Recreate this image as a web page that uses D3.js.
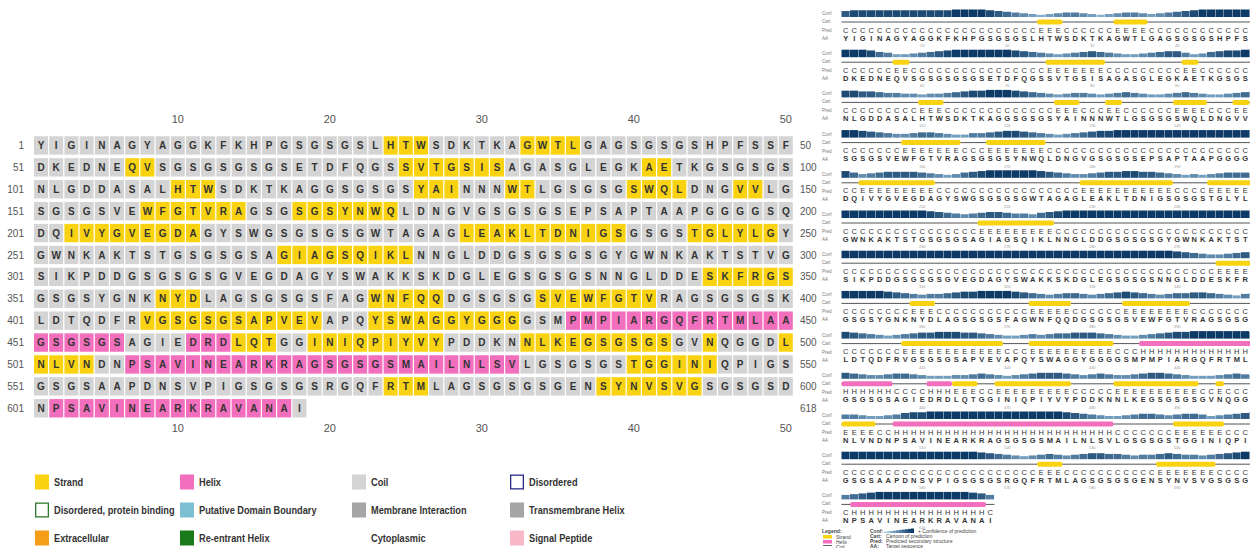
<!DOCTYPE html>
<html>
<head>
<meta charset="utf-8">
<script src="https://cdn.jsdelivr.net/npm/d3@7"></script>
<style>
  html, body { margin: 0; padding: 0; background: #fff; }
  svg { display: block; font-family: "Liberation Sans", Arial, sans-serif; }
</style>
</head>
<body>
<svg id="chart" width="1250" height="548"></svg>
<script>
// Protein sequence, 50 residues per row
const sequenceRows = [
  "YIGINAGYAGGKFKHPGSGSGSLHTWSDKTKAGWTLGAGSGSGSHPFSSF",
  "DKEDNEQVSGSGSGSGSETDFQGSSVTGSISAGASGLEGKAETKGSGSGS",
  "NLGDDASALHTWSDKTKAGGSGSGSYAINNNWTLGSGSGSWQLDNGVVLG",
  "SGSGSVEWFGTVRAGSGSGSYNWQLDNGVGSGSGSEPSAPTAAPGGGGSQ",
  "DQIVYGVEGDAGYSWGSGSGSGWTAGAGLEAKLTDNIGSGSGSTGLYLGY",
  "GWNKAKTSTGSGSGSAGIAGSQIKLNNGLDDGSGSGSGYGWNKAKTSTVG",
  "SIKPDDGSGSGSGVEGDAGYSWAKKSKDGLEGSGSGSNNGLDDESKFRGS",
  "GSGSYGNKNYDLAGSGSGSFAGWNFQQDGSGSGSVEWFGTVRAGSGSGSK",
  "LDTQDFRVGSGSGSAPVEVAPQYSWAGGYGGGGSMPMPIARGQFRTMLAA",
  "GSGSGSAGIEDRDLQTGGINIQPIYVYPDDKNNLKEGSGSGSGVNQGGDL",
  "NLVNDNPSAVINEARKRAGSGSGSMAILNLSVLGSGSGSTGGINIQPIGS",
  "GSGSAAPDNSVPIGSGSGSRGQFRTMLAGSGSGSGENSYNVSVGSGSGSD",
  "NPSAVINEARKRAVANAI"
];

// Secondary structure per row as runs: C = coil, E = strand, H = helix
const structureRuns = [
  "C23 E3 C6 E4 C14",
  "C6 E2 C16 E7 C9 E2 C8",
  "C9 E3 C13 E3 C3 E2 C6 E4 C3 E2 C2",
  "C7 E7 C3 E7 C26",
  "C2 E9 C17 E11 C4 E6 C1",
  "C16 E9 C25",
  "C44 E6",
  "C8 E3 C11 E5 C6 E8 C9",
  "C7 E12 C3 E10 C3 H15",
  "H6 C4 H3 E3 C2 E9 C5 E10 C2 E1 C4 E1",
  "E4 C2 H26 C7 E6 C5",
  "C23 E3 C11 E7 C6",
  "C1 H16 C1"
];

// Prediction confidence (0-9) per residue
const confidenceRows = [
  "7888888888 8889999876 5432345543 2345543456 7899999999",
  "9998653345 6789999999 8765434567 6543345677 5346788999",
  "8877655443 4456788999 8765434554 3456543345 6543345677",
  "9987654456 6543355678 8765434567 8899999999 9999999999",
  "8645677776 5434678999 9998765445 6778877654 3434566655",
  "9999999999 8765456776 5546789999 9999999999 9999999999",
  "9999999999 9999999999 9999999999 9999999998 7654456775",
  "9999987654 5567889999 8765456654 5678765456 6776543567",
  "8765434567 7888776543 3454566777 6543345678 8999999987",
  "7654456654 3334456543 4567776545 6544567765 4333456544",
  "5543345788 9999999999 9999998765 4334566545 6653456789",
  "9999999999 9999998765 4345654567 7665455676 5545678999",
  "5678999999 99999875 "
];

const rowStartLabels = [1, 51, 101, 151, 201, 251, 301, 351, 401, 451, 501, 551, 601];
const rowEndLabels = [50, 100, 150, 200, 250, 300, 350, 400, 450, 500, 550, 600, 618];
const positionTicks = [10, 20, 30, 40, 50];
const miniTicks = [10, 20, 30, 40, 50];

const legendLabels = [
  "Strand", "Helix", "Coil", "Disordered",
  "Disordered, protein binding", "Putative Domain Boundary", "Membrane Interaction", "Transmembrane Helix",
  "Extracellular", "Re-entrant Helix", "Cytoplasmic", "Signal Peptide"
];
const legendFills = [
  "#f9d312", "#f26fbd", "#d4d4d4", "none",
  "none", "#7dbfd2", "#a6a6a6", "#a6a6a6",
  "#f59d16", "#1a7a1a", "none", "#f8b8c8"
];
const legendStrokes = [
  "none", "none", "none", "#2a2a8a",
  "#2f7a2f", "none", "none", "none",
  "none", "none", "none", "none"
];

const ssColor = { E: "#f9d312", H: "#f26fbd", C: "#d4d4d4" };

// expand run strings into per-residue codes
const structureRows = structureRuns.map(r =>
  r.split(" ").map(t => t[0].repeat(+t.slice(1))).join(""));
const confRows = confidenceRows.map(r => r.replace(/\s/g, "").split("").map(Number));

const svg = d3.select("#chart");

// ---------- main sequence panel ----------
const cols = d3.range(1, 51);
const x = d3.scaleBand().domain(cols).range([33.4, 793.4]).paddingInner(0.08).paddingOuter(0.04);
const y = d3.scaleBand().domain(d3.range(13)).range([134.5, 134.5 + 13 * 21.9]).paddingInner(0.16).paddingOuter(0.08);

const main = svg.append("g");

const rows = main.selectAll("g.row").data(sequenceRows).join("g")
  .attr("class", "row")
  .attr("transform", (s, i) => `translate(0,${y(i)})`);

rows.each(function (seq, ri) {
  const cells = seq.split("").map((aa, j) => ({ aa, ss: structureRows[ri][j], pos: j + 1 }));
  const g = d3.select(this);
  g.selectAll("rect").data(cells).join("rect")
    .attr("x", c => x(c.pos))
    .attr("y", 0)
    .attr("width", x.bandwidth())
    .attr("height", y.bandwidth())
    .attr("fill", c => ssColor[c.ss]);
  g.selectAll("text.aa").data(cells).join("text")
    .attr("class", "aa")
    .attr("x", c => x(c.pos) + x.bandwidth() / 2)
    .attr("y", y.bandwidth() / 2)
    .attr("dy", "0.36em")
    .attr("text-anchor", "middle")
    .attr("font-size", 10)
    .attr("font-weight", 700)
    .attr("fill", "#333")
    .text(c => c.aa);
});

main.selectAll("text.rstart").data(rowStartLabels).join("text")
  .attr("class", "rstart")
  .attr("x", 24)
  .attr("y", (v, i) => y(i) + y.bandwidth() / 2)
  .attr("dy", "0.36em")
  .attr("text-anchor", "end")
  .attr("font-size", 10)
  .attr("fill", "#555")
  .text(v => v);

main.selectAll("text.rend").data(rowEndLabels).join("text")
  .attr("class", "rend")
  .attr("x", 800)
  .attr("y", (v, i) => y(i) + y.bandwidth() / 2)
  .attr("dy", "0.36em")
  .attr("font-size", 10)
  .attr("fill", "#555")
  .text(v => v);

const topAxis = main.append("g")
  .attr("transform", "translate(0,129)")
  .call(d3.axisTop(x).tickValues(positionTicks).tickSize(0).tickPadding(6));
const bottomAxis = main.append("g")
  .attr("transform", `translate(0,${134.5 + 13 * 21.9 - 1})`)
  .call(d3.axisBottom(x).tickValues(positionTicks).tickSize(0).tickPadding(6));
[topAxis, bottomAxis].forEach(a => {
  a.select(".domain").remove();
  a.selectAll("text").attr("font-size", 11).attr("fill", "#555")
    .attr("font-family", "Liberation Sans, Arial, sans-serif");
});

// ---------- legend ----------
const legendX = [35, 180, 352, 510];
const legendY = [482, 510, 538];
const legend = svg.append("g");
legendLabels.forEach((label, i) => {
  const g = legend.append("g")
    .attr("transform", `translate(${legendX[i % 4]},${legendY[Math.floor(i / 4)]})`);
  const outlined = legendStrokes[i] !== "none";
  g.append("rect")
    .attr("x", outlined ? 0.65 : 0)
    .attr("y", outlined ? -6.85 : -7.5)
    .attr("width", outlined ? 12.7 : 14)
    .attr("height", outlined ? 13.7 : 15)
    .attr("fill", legendFills[i])
    .attr("stroke", legendStrokes[i])
    .attr("stroke-width", 1.3);
  g.append("text")
    .attr("transform", "translate(19,0) scale(0.8,1)")
    .attr("dy", "0.36em")
    .attr("font-size", 11.5)
    .attr("font-weight", 700)
    .attr("fill", "#333")
    .text(label);
});

// ---------- PSIPRED cartoon panel ----------
const rx = d3.scaleBand().domain(cols).range([841.5, 841.5 + 50 * 8.5]).padding(0);
const blockTop = i => 9 + i * 40.2;
const confColor = d3.scaleLinear().domain([0, 9]).range(["#a8d0e8", "#0d3a66"]);

const side = svg.append("g");
sequenceRows.forEach((seq, bi) => {
  const g = side.append("g").attr("transform", `translate(0,${blockTop(bi)})`);
  const ss = structureRows[bi];
  const conf = confRows[bi];
  const n = seq.length;
  const res = d3.range(n).map(j => ({ pos: j + 1, aa: seq[j], ss: ss[j], conf: conf[j] }));

  // row labels
  [["Conf", 6], ["Cart", 14], ["Pred", 23], ["AA", 31]].forEach(([t, yy]) => {
    g.append("text").attr("x", 822).attr("y", yy).attr("font-size", 4.5).attr("fill", "#777").text(t);
  });

  // confidence bars
  g.selectAll("rect.conf").data(res).join("rect")
    .attr("class", "conf")
    .attr("x", r => rx(r.pos))
    .attr("width", rx.bandwidth() - 0.4)
    .attr("y", r => 8 - (r.conf + 1) / 10 * 7.5)
    .attr("height", r => (r.conf + 1) / 10 * 7.5)
    .attr("fill", r => confColor(r.conf));

  // cartoon: coil line, strand and helix blocks
  g.append("line")
    .attr("x1", rx(1)).attr("x2", rx(n) + rx.bandwidth())
    .attr("y1", 13).attr("y2", 13)
    .attr("stroke", "#555").attr("stroke-width", 1);
  const runs = [];
  res.forEach(r => {
    const last = runs[runs.length - 1];
    if (last && last.ss === r.ss) last.end = r.pos; else runs.push({ ss: r.ss, start: r.pos, end: r.pos });
  });
  g.selectAll("rect.cart").data(runs.filter(r => r.ss !== "C")).join("rect")
    .attr("class", "cart")
    .attr("x", r => rx(r.start))
    .attr("width", r => rx(r.end) + rx.bandwidth() - rx(r.start))
    .attr("y", 10.5).attr("height", 5).attr("rx", 2)
    .attr("fill", r => ssColor[r.ss]);

  // predicted structure letters and sequence letters
  g.selectAll("text.pred").data(res).join("text")
    .attr("class", "pred")
    .attr("x", r => rx(r.pos) + rx.bandwidth() / 2)
    .attr("y", 23.5).attr("text-anchor", "middle")
    .attr("font-size", 7.5).attr("fill", "#333")
    .text(r => r.ss);
  g.selectAll("text.aa").data(res).join("text")
    .attr("class", "aa")
    .attr("x", r => rx(r.pos) + rx.bandwidth() / 2)
    .attr("y", 31.5).attr("text-anchor", "middle")
    .attr("font-size", 7.5).attr("font-weight", 700).attr("fill", "#333")
    .text(r => r.aa);

  // position scale
  g.selectAll("text.tick").data(miniTicks.filter(t => t <= n)).join("text")
    .attr("class", "tick")
    .attr("x", t => rx(t) + rx.bandwidth() / 2)
    .attr("y", 38).attr("text-anchor", "middle")
    .attr("font-size", 4).attr("fill", "#999")
    .text(t => t + bi * 50);
});

// small legend of the cartoon panel
const sl = side.append("g").attr("font-size", 5).attr("fill", "#444");
sl.append("text").attr("x", 822).attr("y", 533).attr("font-weight", 700).text("Legend:");
const keyItems = [["Strand", "#f9d312"], ["Helix", "#f26fbd"], ["Coil", "#666"]];
keyItems.forEach((item, i) => {
  sl.append("rect").attr("x", 823).attr("y", 535 + i * 5).attr("width", 9)
    .attr("height", i === 2 ? 1 : 3.5).attr("fill", item[1]);
  sl.append("text").attr("x", 836).attr("y", 538.5 + i * 5).text(item[0]);
});
const keyRows = [["Conf:", "Confidence of prediction"], ["Cart:", "Cartoon of prediction"],
  ["Pred:", "Predicted secondary structure"], ["AA:", "Target sequence"]];
keyRows.forEach((item, i) => {
  const yy = 533 + i * 5;
  sl.append("text").attr("x", 870).attr("y", yy).attr("font-weight", 700).text(item[0]);
  if (i === 0) {
    for (let k = 0; k < 10; k++) {
      const h = (k + 1) * 0.35 + 1;
      sl.append("rect").attr("x", 884 + k * 3).attr("y", yy - h)
        .attr("width", 3).attr("height", h).attr("fill", confColor(k));
    }
    sl.append("text").attr("x", 918).attr("y", yy).text("+ " + item[1]);
  } else {
    sl.append("text").attr("x", 886).attr("y", yy).text(item[1]);
  }
});
</script>
</body>
</html>
